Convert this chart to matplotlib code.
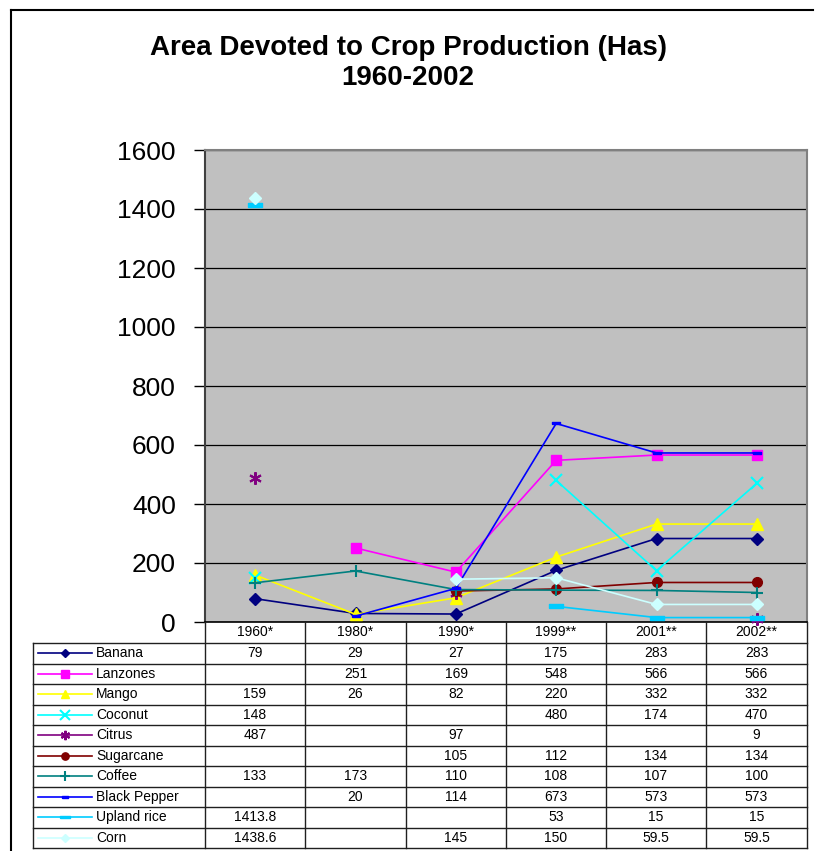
import numpy as np
import matplotlib.pyplot as plt
from matplotlib.path import Path

plt.rcParams['font.family'] = ['Liberation Sans', 'DejaVu Sans']

# data
years = ['1960*', '1980*', '1990*', '1999**', '2001**', '2002**']
nan = np.nan
crops = ['Banana', 'Lanzones', 'Mango', 'Coconut', 'Citrus', 'Sugarcane',
         'Coffee', 'Black Pepper', 'Upland rice', 'Corn']
banana = [79, 29, 27, 175, 283, 283]
lanzones = [nan, 251, 169, 548, 566, 566]
mango = [159, 26, 82, 220, 332, 332]
coconut = [148, nan, nan, 480, 174, 470]
citrus = [487, nan, 97, nan, nan, 9]
sugarcane = [nan, nan, 105, 112, 134, 134]
coffee = [133, 173, 110, 108, 107, 100]
black_pepper = [nan, 20, 114, 673, 573, 573]
upland_rice = [1413.8, nan, nan, 53, 15, 15]
corn = [1438.6, nan, 145, 150, 59.5, 59.5]
series = [banana, lanzones, mango, coconut, citrus, sugarcane,
          coffee, black_pepper, upland_rice, corn]

small_bar = Path([(-1, -0.35), (1, -0.35), (1, 0.35), (-1, 0.35), (-1, -0.35)])
wide_bar = Path([(-1, -0.22), (1, -0.22), (1, 0.22), (-1, 0.22), (-1, -0.22)])

styles = [
    dict(color='#000080', marker='D', ms=6),
    dict(color='#FF00FF', marker='s', ms=7),
    dict(color='#FFFF00', marker='^', ms=8),
    dict(color='#00FFFF', marker='x', ms=9, mew=1.5),
    dict(color='#800080', marker=(6, 2, 0), ms=9, mew=1.5),
    dict(color='#800000', marker='o', ms=7),
    dict(color='#008080', marker='+', ms=9, mew=1.5),
    dict(color='#0000FF', marker=small_bar, ms=6),
    dict(color='#00CCFF', marker=wide_bar, ms=10),
    dict(color='#CCFFFF', marker='D', ms=6),
]

W, H = 816, 851
fig = plt.figure(figsize=(W / 100, H / 100), dpi=100)

def box(x0, y0, x1, y1):
    return [x0 / W, 1 - y1 / H, (x1 - x0) / W, (y1 - y0) / H]

# outer chart border
fig.add_artist(plt.Line2D([11 / W, 11 / W], [0, 1 - 10 / H], color='black', lw=1.5))
fig.add_artist(plt.Line2D([11 / W, 813 / W], [1 - 10 / H, 1 - 10 / H], color='black', lw=1.5))

fig.text(0.5, 1 - 48 / H, 'Area Devoted to Crop Production (Has)',
         ha='center', va='center', fontsize=20, fontweight='bold')
fig.text(0.5, 1 - 78 / H, '1960-2002',
         ha='center', va='center', fontsize=20, fontweight='bold')

ax = fig.add_axes(box(205, 150, 807, 622))
ax.set_facecolor('#C0C0C0')
x = np.arange(len(years))
for vals, st in zip(series, styles):
    ax.plot(x, vals, lw=1.2, clip_on=False, zorder=3, **st)
ax.set_xlim(-0.5, len(years) - 0.5)
ax.set_ylim(0, 1600)
ax.set_yticks(range(0, 1601, 200))
ax.set_xticks([])
ax.yaxis.grid(True, color='black', lw=0.9)
ax.set_axisbelow(True)
ax.tick_params(axis='y', labelsize=19, length=8, width=1, direction='out', pad=13)
for s in ['top', 'right']:
    ax.spines[s].set_color('#808080')
    ax.spines[s].set_linewidth(1.5)
ax.spines['left'].set_color('#404040')
ax.spines['left'].set_linewidth(1.5)
ax.spines['bottom'].set_color('black')
ax.spines['bottom'].set_linewidth(1.2)

# data table
tx = fig.add_axes(box(0, 622, W, H))
tx.set_xlim(0, W)
tx.set_ylim(H, 622)
tx.axis('off')
col_edges = [205, 305, 406, 506, 606, 706, 807]
top, head_bot, bot = 622, 643, 848
row_h = (bot - head_bot) / len(crops)
lc = '#202020'
fs = 10
for xe in col_edges:
    tx.plot([xe, xe], [top, bot], color=lc, lw=1)
tx.plot([33, 33], [head_bot, bot], color=lc, lw=1)
for i in range(len(crops) + 1):
    yy = head_bot + i * row_h
    tx.plot([33, 807], [yy, yy], color=lc, lw=1)
for j, yr in enumerate(years):
    cx = (col_edges[j] + col_edges[j + 1]) / 2
    tx.text(cx, (top + head_bot) / 2, yr, ha='center', va='center', fontsize=fs)
for i, (name, vals, st) in enumerate(zip(crops, series, styles)):
    cy = head_bot + (i + 0.5) * row_h
    tx.plot([38, 92], [cy, cy], color=st['color'], lw=1.2)
    tx.plot([65], [cy], color=st['color'], marker=st['marker'],
            ms=st['ms'] * 0.75, mew=st.get('mew', 1))
    tx.text(96, cy, name, ha='left', va='center', fontsize=fs)
    for j, v in enumerate(vals):
        if not np.isnan(v):
            cx = (col_edges[j] + col_edges[j + 1]) / 2
            tx.text(cx, cy, '{:g}'.format(v), ha='center', va='center', fontsize=fs)

fig.savefig('out.png', dpi=100)
